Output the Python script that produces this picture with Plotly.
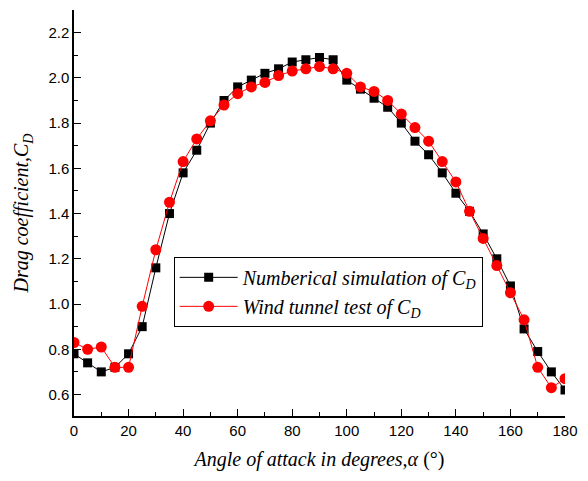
import plotly.graph_objects as go

angles = list(range(0, 181, 5))
sim_cd = [0.78, 0.74, 0.70, 0.72, 0.78, 0.90, 1.16, 1.40, 1.58, 1.68,
          1.80, 1.90, 1.96, 1.99, 2.02, 2.04, 2.07, 2.08, 2.09, 2.08,
          1.99, 1.95, 1.91, 1.87, 1.80, 1.72, 1.66, 1.58, 1.49, 1.41,
          1.31, 1.20, 1.08, 0.89, 0.79, 0.70, 0.62]
wind_cd = [0.83, 0.80, 0.81, 0.72, 0.72, 0.99, 1.24, 1.45, 1.63, 1.73,
           1.81, 1.88, 1.93, 1.96, 1.98, 2.01, 2.03, 2.04, 2.05, 2.04,
           2.02, 1.96, 1.94, 1.90, 1.84, 1.78, 1.72, 1.63, 1.54, 1.41,
           1.29, 1.17, 1.05, 0.93, 0.72, 0.63, 0.67]
x_ticks = [0, 20, 40, 60, 80, 100, 120, 140, 160, 180]
y_ticks = [0.6, 0.8, 1.0, 1.2, 1.4, 1.6, 1.8, 2.0, 2.2]

fig = go.Figure()
fig.add_trace(go.Scatter(
    x=angles, y=sim_cd, mode="lines+markers",
    name="Numberical simulation of C<sub>D</sub>",
    line=dict(color="black", width=1),
    marker=dict(symbol="square", size=9, color="black"),
))
fig.add_trace(go.Scatter(
    x=angles, y=wind_cd, mode="lines+markers",
    name="Wind tunnel test of C<sub>D</sub>",
    line=dict(color="#ff0000", width=1),
    marker=dict(symbol="circle", size=11, color="#ff0000"),
))

axis_font = dict(family="Liberation Sans, Arial", size=15, color="black")
title_font = dict(family="Liberation Serif, Times New Roman", size=20, color="black")

fig.update_layout(
    width=588, height=481,
    margin=dict(l=74, r=11, t=10, b=65),
    plot_bgcolor="white", paper_bgcolor="white",
    showlegend=True,
    legend=dict(
        x=0.203, y=0.392, xanchor="left", yanchor="top",
        bordercolor="black", borderwidth=1, bgcolor="white",
        font=dict(family="Liberation Serif, Times New Roman", size=20, color="black", style="italic"),
        tracegroupgap=0, itemwidth=58,
    ),
    xaxis=dict(
        range=[0, 180], tickvals=x_ticks, ticks="inside", ticklen=7, tickwidth=1,
        tickcolor="black", showline=True, linecolor="black", linewidth=1.5,
        showgrid=False, zeroline=False, tickfont=axis_font, ticklabeloverflow="allow",
        minor=dict(dtick=10, ticks="inside", ticklen=4, tickcolor="black", showgrid=False),
        title=dict(text="<i>Angle of attack in degrees,α</i> (°)", font=title_font, standoff=14),
    ),
    yaxis=dict(
        range=[0.505, 2.3], tickvals=y_ticks, tickformat=".1f", ticks="inside", ticklen=7,
        tickwidth=1, tickcolor="black", showline=True, linecolor="black", linewidth=1.5,
        showgrid=False, zeroline=False, tickfont=axis_font,
        minor=dict(dtick=0.1, ticks="inside", ticklen=4, tickcolor="black", showgrid=False),
        title=dict(text="<i>Drag coefficient,C<sub>D</sub></i>", font=title_font, standoff=14),
    ),
)

fig.write_html("out.html")
